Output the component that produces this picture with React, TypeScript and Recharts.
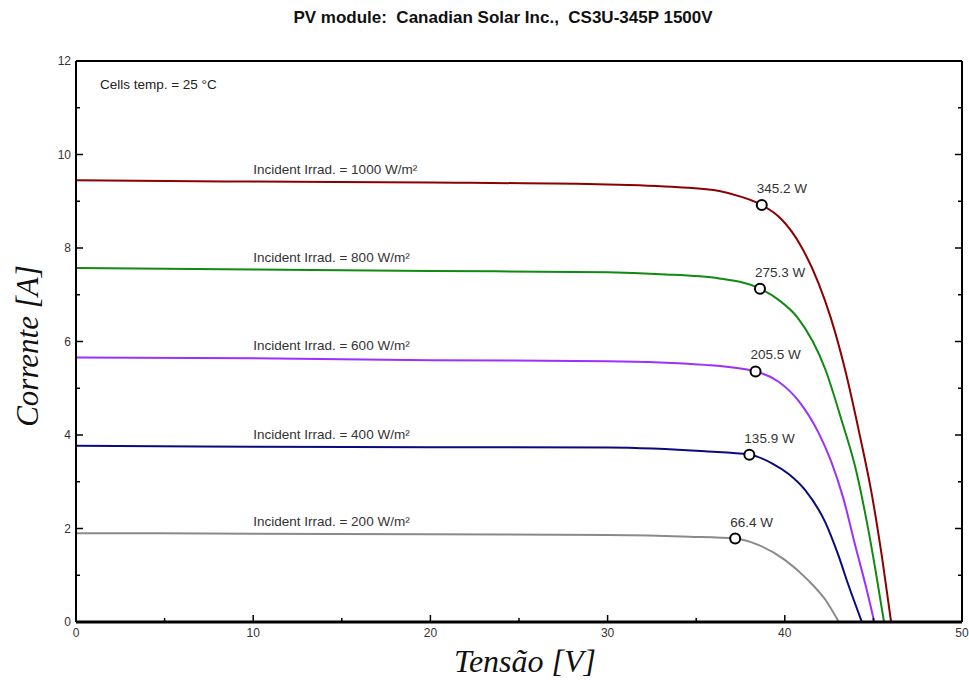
import { ComposedChart, Line, XAxis, YAxis, ReferenceDot } from "recharts"

// I-V curves, one pair of arrays per irradiance level
const voltage1000 = [0, 10, 20, 30, 34, 36.3, 37.5, 38.7, 39.8, 40.9, 41.9, 42.6, 43.4, 44.2, 44.9, 45.5, 46.0]
const current1000 = [9.45, 9.42, 9.4, 9.36, 9.3, 9.22, 9.1, 8.92, 8.62, 8.05, 7.25, 6.5, 5.4, 4.05, 2.75, 1.35, 0]

const voltage800 = [0, 10, 20, 30, 33, 36.3, 38.6, 39.65, 40.7, 42.3, 43.2, 44.05, 44.6, 45.1, 45.6]
const current800 = [7.57, 7.54, 7.51, 7.48, 7.44, 7.35, 7.13, 6.89, 6.52, 5.39, 4.32, 3.2, 2.2, 1.15, 0]

const voltage600 = [0, 10, 20, 30, 35.5, 38.35, 39.65, 40.8, 41.9, 42.6, 43.3, 44.0, 44.55, 45.05]
const current600 = [5.66, 5.64, 5.6, 5.58, 5.5, 5.36, 5.14, 4.72, 4.05, 3.45, 2.65, 1.6, 0.8, 0]

const voltage400 = [0, 10, 20, 30, 35.5, 38.0, 39.3, 40.2, 41.15, 42.3, 43.0, 43.6, 44.35]
const current400 = [3.77, 3.75, 3.74, 3.73, 3.65, 3.58, 3.39, 3.17, 2.82, 2.12, 1.45, 0.78, 0]

const voltage200 = [0, 10, 20, 30, 34.6, 37.2, 38.5, 40.0, 41.3, 42.3, 43.05]
const current200 = [1.9, 1.89, 1.875, 1.86, 1.825, 1.785, 1.65, 1.33, 0.9, 0.47, 0]

// maximum power points
const mppVoltage = [38.7, 38.6, 38.35, 38.0, 37.2]
const mppCurrent = [8.92, 7.13, 5.36, 3.58, 1.785]
const mppLabels = ["345.2 W", "275.3 W", "205.5 W", "135.9 W", "66.4 W"]

const irradLabels = [
  "Incident Irrad. = 1000 W/m²",
  "Incident Irrad. = 800 W/m²",
  "Incident Irrad. = 600 W/m²",
  "Incident Irrad. = 400 W/m²",
  "Incident Irrad. = 200 W/m²",
]
const colors = ["#8b0000", "#108a10", "#9b30ff", "#0a0a80", "#8a8a8a"]

const xTicks = [0, 5, 10, 15, 20, 25, 30, 35, 40, 45, 50]
const yTicks = [0, 1, 2, 3, 4, 5, 6, 7, 8, 9, 10, 11, 12]

const title = "PV module:  Canadian Solar Inc.,  CS3U-345P 1500V"
const cellsTemp = "Cells temp. = 25 °C"

const toRows = (v: number[], i: number[]) => v.map((x, k) => ({ v: x, i: i[k] }))
const series = [
  toRows(voltage1000, current1000),
  toRows(voltage800, current800),
  toRows(voltage600, current600),
  toRows(voltage400, current400),
  toRows(voltage200, current200),
]

const tickFont = "'Liberation Sans Narrow', 'Liberation Sans', Arial, sans-serif"
const textFont = "'Liberation Sans', Arial, sans-serif"

const BottomTick = (props: any) => {
  const { x, y, payload } = props
  const major = payload.value % 10 === 0
  return (
    <g>
      <line x1={x} y1={y} x2={x} y2={y - (major ? 7 : 4)} stroke="#000" strokeWidth={1.5} />
      {major && (
        <text x={x} y={y + 15} textAnchor="middle" fontSize={12} fontFamily={tickFont} fill="#333">
          {payload.value}
        </text>
      )}
    </g>
  )
}

const TopTick = (props: any) => {
  const { x, y, payload } = props
  const major = payload.value % 10 === 0
  return <line x1={x} y1={y} x2={x} y2={y + (major ? 7 : 4)} stroke="#000" strokeWidth={1.5} />
}

const LeftTick = (props: any) => {
  const { x, y, payload } = props
  const major = payload.value % 2 === 0
  return (
    <g>
      <line x1={x} y1={y} x2={x + (major ? 7 : 4)} y2={y} stroke="#000" strokeWidth={1.5} />
      {major && (
        <text x={x - 5} y={y + 4} textAnchor="end" fontSize={12} fontFamily={tickFont} fill="#333">
          {payload.value}
        </text>
      )}
    </g>
  )
}

const RightTick = (props: any) => {
  const { x, y, payload } = props
  const major = payload.value % 2 === 0
  return <line x1={x} y1={y} x2={x - (major ? 7 : 4)} y2={y} stroke="#000" strokeWidth={1.5} />
}

export default function App() {
  return (
    <div style={{ position: "absolute", left: 0, top: 0, width: 969, height: 684, background: "#fff" }}>
      <div
        style={{
          position: "absolute",
          left: 0,
          top: 8,
          width: 1006,
          textAlign: "center",
          fontFamily: textFont,
          fontWeight: "bold",
          fontSize: 17,
          color: "#111",
          whiteSpace: "pre",
        }}
      >
        {title}
      </div>
      <ComposedChart width={969} height={684} margin={{ top: 60, right: 6, bottom: 61, left: 75 }}>
        <XAxis
          xAxisId={0}
          dataKey="v"
          type="number"
          domain={[0, 50]}
          ticks={xTicks}
          interval={0}
          height={1}
          tickSize={0}
          tickMargin={0}
          tick={BottomTick}
          axisLine={{ stroke: "#000", strokeWidth: 3 }}
          allowDataOverflow
        />
        <XAxis
          xAxisId="top"
          orientation="top"
          type="number"
          domain={[0, 50]}
          ticks={xTicks}
          interval={0}
          height={1}
          tickSize={0}
          tickMargin={0}
          tick={TopTick}
          axisLine={{ stroke: "#000", strokeWidth: 2 }}
          allowDataOverflow
        />
        <YAxis
          yAxisId={0}
          type="number"
          domain={[0, 12]}
          ticks={yTicks}
          interval={0}
          width={1}
          tickSize={0}
          tickMargin={0}
          tick={LeftTick}
          axisLine={{ stroke: "#000", strokeWidth: 2 }}
          allowDataOverflow
        />
        <YAxis
          yAxisId="right"
          orientation="right"
          type="number"
          domain={[0, 12]}
          ticks={yTicks}
          interval={0}
          width={1}
          tickSize={0}
          tickMargin={0}
          tick={RightTick}
          axisLine={{ stroke: "#000", strokeWidth: 2 }}
          allowDataOverflow
        />
        {series.map((rows, k) => (
          <Line
            key={k}
            data={rows}
            dataKey="i"
            type="monotone"
            stroke={colors[k]}
            strokeWidth={2}
            dot={false}
            isAnimationActive={false}
          />
        ))}
        {series.map((rows, k) => (
          <ReferenceDot
            key={"irr" + k}
            x={rows[1].v}
            y={rows[1].i}
            r={0}
            shape={(p: any) => (
              <text x={p.cx} y={p.cy - 8} fontSize={13.5} fontFamily={textFont} fill="#333">
                {irradLabels[k]}
              </text>
            )}
          />
        ))}
        {mppVoltage.map((v, k) => (
          <ReferenceDot
            key={"mpp" + k}
            x={v}
            y={mppCurrent[k]}
            r={5}
            shape={(p: any) => (
              <g>
                <circle cx={p.cx} cy={p.cy} r={5} fill="#fff" stroke="#000" strokeWidth={2} />
                <text x={p.cx - 5} y={p.cy - 12} fontSize={13.5} fontFamily={textFont} fill="#333">
                  {mppLabels[k]}
                </text>
              </g>
            )}
          />
        ))}
        <ReferenceDot
          x={1.35}
          y={11.5}
          r={0}
          shape={(p: any) => (
            <text x={p.cx} y={p.cy + 5} fontSize={13.5} fontFamily={textFont} fill="#222">
              {cellsTemp}
            </text>
          )}
        />
      </ComposedChart>
      <div
        style={{
          position: "absolute",
          left: 435,
          top: 641,
          width: 180,
          textAlign: "center",
          fontFamily: "'Liberation Serif', 'Times New Roman', serif",
          fontStyle: "italic",
          fontSize: 32,
          lineHeight: "40px",
          color: "#111",
          whiteSpace: "pre",
        }}
      >
        Tensão [V]
      </div>
      <div
        style={{
          position: "absolute",
          left: 28 - 100,
          top: 346 - 20,
          width: 200,
          textAlign: "center",
          transform: "rotate(-90deg)",
          fontFamily: "'Liberation Serif', 'Times New Roman', serif",
          fontStyle: "italic",
          fontSize: 31,
          lineHeight: "40px",
          color: "#111",
          whiteSpace: "pre",
        }}
      >
        Corrente [A]
      </div>
    </div>
  )
}
